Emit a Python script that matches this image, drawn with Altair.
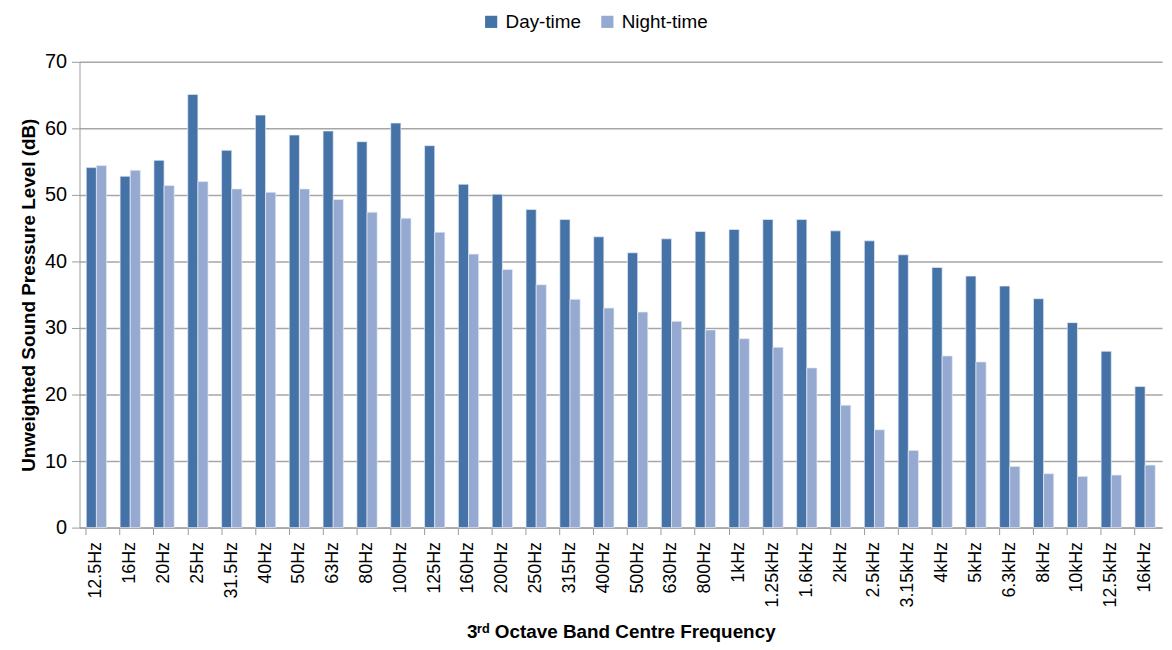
import altair as alt
import pandas as pd

bands = ["12.5Hz", "16Hz", "20Hz", "25Hz", "31.5Hz", "40Hz", "50Hz", "63Hz", "80Hz",
         "100Hz", "125Hz", "160Hz", "200Hz", "250Hz", "315Hz", "400Hz", "500Hz", "630Hz",
         "800Hz", "1kHz", "1.25kHz", "1.6kHz", "2kHz", "2.5kHz", "3.15kHz", "4kHz", "5kHz",
         "6.3kHz", "8kHz", "10kHz", "12.5kHz", "16kHz"]
day = [54.1, 52.8, 55.2, 65.1, 56.7, 62.0, 59.0, 59.6, 58.0, 60.8, 57.4, 51.6, 50.1,
       47.8, 46.3, 43.7, 41.3, 43.4, 44.5, 44.8, 46.3, 46.3, 44.6, 43.1, 41.0, 39.1,
       37.8, 36.3, 34.4, 30.8, 26.5, 21.2]
night = [54.4, 53.7, 51.4, 52.0, 50.9, 50.4, 50.9, 49.3, 47.4, 46.5, 44.4, 41.1, 38.8,
         36.5, 34.3, 33.0, 32.4, 31.0, 29.7, 28.4, 27.1, 24.0, 18.4, 14.7, 11.6, 25.8,
         24.9, 9.2, 8.1, 7.7, 7.9, 9.4]
series = ["Day-time", "Night-time"]
colors = ["#4572A7", "#95A9D1"]

rows = []
for b, d, n in zip(bands, day, night):
    rows.append({"band": b, "series": series[0], "value": d})
    rows.append({"band": b, "series": series[1], "value": n})
df = pd.DataFrame(rows)

FONT = "Liberation Sans, Arial, sans-serif"

chart = alt.Chart(df).mark_bar(stroke="#E6ECF5", strokeWidth=0.7).encode(
    x=alt.X("band:N", sort=bands,
            scale=alt.Scale(paddingInner=0.4, paddingOuter=0.2),
            axis=alt.Axis(title="3ʳᵈ Octave Band Centre Frequency", labelAngle=-90,
                          labelFontSize=18, labelPadding=7, labelLimit=200, titleFontSize=19,
                          titleFontWeight="bold", titlePadding=16, bandPosition=0,
                          tickSize=7, domainColor="#9a9a9a", tickColor="#9a9a9a",
                          labelColor="#000000", titleColor="#000000", grid=False)),
    xOffset=alt.XOffset("series:N", sort=series),
    y=alt.Y("value:Q", scale=alt.Scale(domain=[0, 70]),
            axis=alt.Axis(title="Unweighted Sound Pressure Level (dB)", values=list(range(0, 71, 10)),
                          labelFontSize=20, labelPadding=5, tickSize=8,
                          titleFontSize=19, titleFontWeight="bold", titlePadding=6,
                          domainColor="#9a9a9a", tickColor="#9a9a9a", gridColor="#a6a6a6",
                          gridWidth=1.5, labelColor="#000000", titleColor="#000000")),
    color=alt.Color("series:N", sort=series,
                    scale=alt.Scale(domain=series, range=colors),
                    legend=alt.Legend(title=None, orient="none", direction="horizontal",
                                      legendX=405, legendY=-50, symbolType="square",
                                      symbolSize=150, symbolStrokeWidth=0,
                                      labelFontSize=19, labelOffset=5, columnPadding=16,
                                      labelColor="#000000")),
).properties(
    width=1090, height=469,
    padding={"left": 72, "top": 52, "right": 2, "bottom": 113},
    autosize=alt.AutoSizeParams(type="none"),
).configure(font=FONT).configure_view(stroke=None)

chart.save("out.html", embed_options={"renderer": "svg", "actions": False})
